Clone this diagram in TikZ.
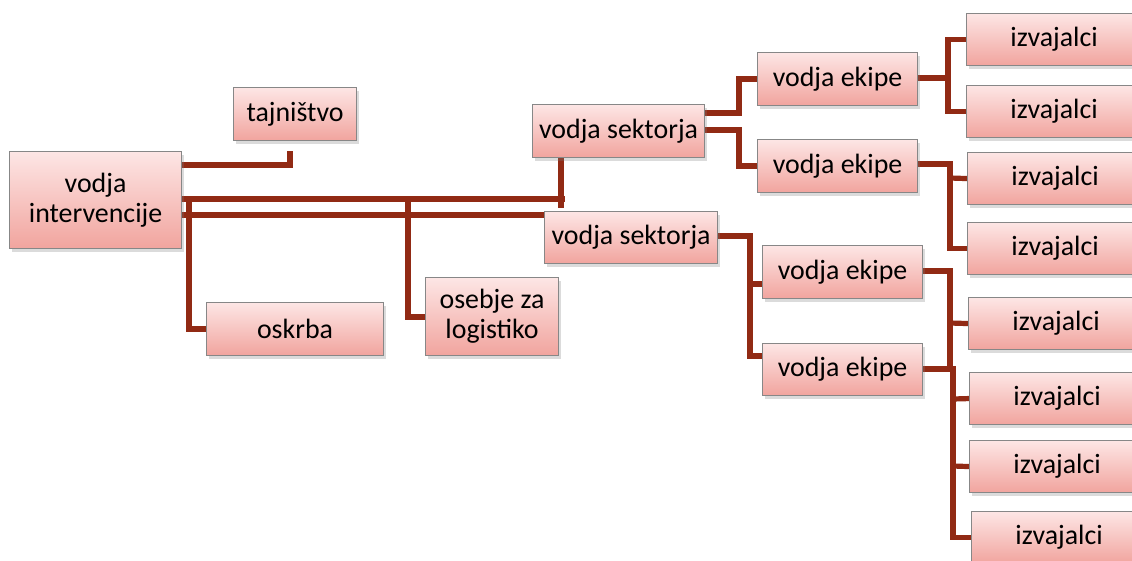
\documentclass[tikz,border=0pt]{standalone}
\usepackage{fontspec}
\setmainfont{Carlito}
\usetikzlibrary{shadows,backgrounds}
\definecolor{boxtop}{RGB}{253,230,229}
\definecolor{boxbot}{RGB}{241,164,158}
\definecolor{boxline}{RGB}{135,135,135}
\definecolor{linkc}{RGB}{145,42,20}
\begin{document}
\begin{tikzpicture}[x=1pt,y=-1pt,
  box/.style={anchor=north west, draw=boxline, line width=1.1pt,
    top color=boxtop, bottom color=boxbot, inner sep=0pt, align=center,
    font=\fontsize{27.9}{30}\selectfont,
    drop shadow={opacity=0.28, shadow xshift=2pt, shadow yshift=-3pt}},
  ibox/.style={box, minimum width=175pt, minimum height=52pt},
  ebox/.style={box, minimum width=160pt, minimum height=53pt},
  conn/.style={draw=linkc, line width=5.2pt}]
\useasboundingbox (0,0) rectangle (1132,560);
\clip (0,0) rectangle (1132,560);
% nodes
\node[box, minimum width=172pt, minimum height=97pt] (vi) at (9,151) {vodja\\intervencije};
\node[box, minimum width=123pt, minimum height=53pt] (taj) at (233,87) {tajništvo};
\node[box, minimum width=177pt, minimum height=53pt] (osk) at (206,302) {oskrba};
\node[box, minimum width=133pt, minimum height=78pt] (oseb) at (425,277) {osebje za\\logistiko};
\node[box, minimum width=172pt, minimum height=53pt] (vs1) at (532,104) {vodja sektorja};
\node[box, minimum width=173pt, minimum height=52pt] (vs2) at (544,211) {vodja sektorja};
\node[ebox] (ve1) at (757,52) {vodja ekipe};
\node[ebox] (ve2) at (757,139) {vodja ekipe};
\node[ebox] (ve3) at (762,245) {vodja ekipe};
\node[ebox, minimum height=52pt] (ve4) at (762,343) {vodja ekipe};
\node[ibox] (iz1) at (966,13) {izvajalci};
\node[ibox] (iz2) at (966,85) {izvajalci};
\node[ibox] (iz3) at (967,152) {izvajalci};
\node[ibox] (iz4) at (967,222) {izvajalci};
\node[ibox] (iz5) at (968,297) {izvajalci};
\node[ibox] (iz6) at (969,372) {izvajalci};
\node[ibox] (iz7) at (969,440) {izvajalci};
\node[ibox] (iz8) at (971,511) {izvajalci};
\coordinate (tajend) at (290,151);
% connectors
\begin{scope}[on background layer]
\fill[white] (0,0) rectangle (1132,560);
\draw[conn] (vi.east |- 0,165) -| (tajend);
\draw[conn] (vi.east |- 0,199) -- (565,199);
\draw[conn] ([xshift=29pt]vs1.south west) -- ++(0,50);
\draw[conn] (vi.east |- 0,215) -- (vs2.west |- 0,215);
\draw[conn] (189,199) |- (osk.west |- 0,329);
\draw[conn] (408,199) |- (oseb.west |- 0,317);
\draw[conn] (vs1.east |- 0,113) -- (739,113) |- (ve1.west);
\draw[conn] (vs1.east |- 0,130) -- (739,130) |- (ve2.west |- 0,166);
\draw[conn] (vs2.east |- 0,236) -- (750,236) |- (ve4.west |- 0,356);
\draw[conn] (750,284) -- (ve3.west |- 0,284);
\draw[conn] (ve1.east |- 0,78) -- (948,78);
\draw[conn] (iz1.west) -| (948,78) |- (iz2.west);
\draw[conn] (ve2.east |- 0,164) -- (950,164) |- (iz4.west);
\draw[conn] (950,178) -- (iz3.west);
\draw[conn] (ve3.east |- 0,271) -- (950,271) -- (950,370);
\draw[conn] (950,323) -- (iz5.west);
\draw[conn] (ve4.east |- 0,369) -- (953,369) |- (iz8.west);
\draw[conn] (953,399) -- (iz6.west);
\draw[conn] (953,466) -- (iz7.west);
\end{scope}
\end{tikzpicture}
\end{document}
